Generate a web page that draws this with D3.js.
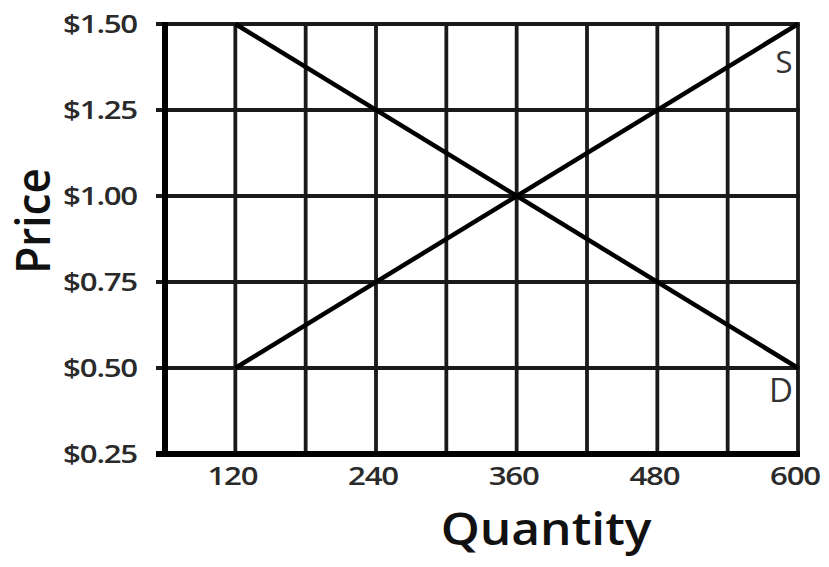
<!DOCTYPE html>
<html><head><meta charset="utf-8">
<script src="https://cdn.jsdelivr.net/npm/d3@7"></script>
<style>html,body{margin:0;padding:0;background:#fff;}svg{display:block;}</style>
</head><body>
<svg id="c" width="829" height="567"></svg>
<script>
const xTickValues = [120, 240, 360, 480, 600];
const xGridValues = [60, 120, 180, 240, 300, 360, 420, 480, 540, 600];
const yTickValues = [0.25, 0.5, 0.75, 1.0, 1.25, 1.5];
const supplyQuantity = [120, 600];
const supplyPrice = [0.5, 1.5];
const demandQuantity = [120, 600];
const demandPrice = [1.5, 0.5];
const xAxisTitle = "Quantity";
const yAxisTitle = "Price";

const svg = d3.select("#c");
const x = d3.scaleLinear().domain([60, 600]).range([165, 798]);
const y = d3.scaleLinear().domain([0.25, 1.5]).range([454, 24]);
const fmt = d => "$" + d.toFixed(2);

// vertical grid
svg.append("g").selectAll("line").data(xGridValues).join("line")
  .attr("x1", d => x(d)).attr("x2", d => x(d))
  .attr("y1", y(1.5)).attr("y2", y(0.25))
  .attr("stroke", "#1a1a1a").attr("stroke-width", 3.8);
// horizontal grid (with stub ticks)
svg.append("g").selectAll("line").data(yTickValues).join("line")
  .attr("x1", x(60) - 9).attr("x2", x(600) + 1.9)
  .attr("y1", d => y(d)).attr("y2", d => y(d))
  .attr("stroke", "#1a1a1a").attr("stroke-width", 3.8);
// axes heavier
svg.append("line").attr("x1", x(60)).attr("x2", x(60)).attr("y1", y(1.5) - 2).attr("y2", y(0.25) + 3)
  .attr("stroke", "#000").attr("stroke-width", 6);
svg.append("line").attr("x1", x(60) - 9).attr("x2", x(600) + 2).attr("y1", y(0.25)).attr("y2", y(0.25))
  .attr("stroke", "#000").attr("stroke-width", 6);

// curves
const line = d3.line().x(d => x(d[0])).y(d => y(d[1]));
svg.append("path").datum(supplyQuantity.map((q, i) => [q, supplyPrice[i]]))
  .attr("d", line).attr("fill", "none").attr("stroke", "#000").attr("stroke-width", 4.5);
svg.append("path").datum(demandQuantity.map((q, i) => [q, demandPrice[i]]))
  .attr("d", line).attr("fill", "none").attr("stroke", "#000").attr("stroke-width", 4.5);

const font = "'Open Sans', sans-serif";
// y tick labels
svg.append("g").selectAll("text").data(yTickValues).join("text")
  .attr("transform", d => `translate(137,${y(d) + 9}) scale(1.2,1)`)
  .attr("text-anchor", "end").attr("font-family", font).attr("font-size", 26).attr("font-weight", 600)
  .attr("fill", "#2a2a2a").attr("letter-spacing", -1).text(fmt);
// x tick labels
svg.append("g").selectAll("text").data(xTickValues).join("text")
  .attr("transform", d => `translate(${x(d) - 3},${y(0.25) + 31}) scale(1.2,1)`)
  .attr("text-anchor", "middle").attr("font-family", font).attr("font-size", 26).attr("font-weight", 600)
  .attr("fill", "#2a2a2a").attr("letter-spacing", -1).text(d => d);

// axis titles
svg.append("text").attr("transform", "translate(546,545) scale(1.08,1)")
  .attr("text-anchor", "middle").attr("font-family", font).attr("font-size", 46).attr("font-weight", 600)
  .attr("fill", "#111").text(xAxisTitle);
svg.append("text").attr("transform", "translate(50,221) rotate(-90) scale(1,1.05)")
  .attr("text-anchor", "middle").attr("font-family", font).attr("font-size", 44).attr("font-weight", 600)
  .attr("fill", "#111").text(yAxisTitle);

// curve labels
svg.append("text").attr("x", 784).attr("y", 73).attr("text-anchor", "middle")
  .attr("font-family", font).attr("font-size", 31).attr("fill", "#333").text("S");
svg.append("text").attr("x", 781).attr("y", 402).attr("text-anchor", "middle")
  .attr("font-family", font).attr("font-size", 33).attr("fill", "#333").text("D");
</script>
</body></html>
